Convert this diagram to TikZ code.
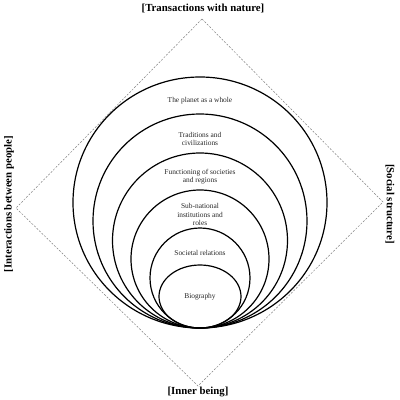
\documentclass[tikz,border=0pt]{standalone}
\usepackage{fontspec}
\setmainfont{Liberation Serif}
\tikzset{
	frame/.style={gray, line width=0.5pt, dash pattern=on 2pt off 1.5pt},
	ring/.style={black, line width=1.2pt},
	level/.style={font=\fontsize{7.4}{8.3}\selectfont, align=center, text=black!85, inner sep=0pt},
	pole/.style={font=\fontsize{10.8}{13}\selectfont\bfseries, inner sep=0pt}
}
\begin{document}
\begin{tikzpicture}[x=1pt, y=-1pt]
	\useasboundingbox (0,0) rectangle (400,400);
	\coordinate (T) at (202,19);
	\coordinate (R) at (383,202);
	\coordinate (B) at (198,386);
	\coordinate (L) at (16,208);
	\draw[frame] (T) -- (R) -- (B) -- (L) -- cycle;
	\node[pole] (nature) at (203,8) {[Transactions with nature]};
	\node[pole, rotate=90] (people) at (9,204) {[Interactions between people]};
	\node[pole, rotate=-90] (social) at (390,204) {[Social structure]};
	\node[pole] (inner) at (198,392) {[Inner being]};
	\draw[ring] (200,202.5) ellipse [x radius=127, y radius=125.5];
	\draw[ring] (200,221) ellipse [x radius=107, y radius=107];
	\draw[ring] (200,240.5) ellipse [x radius=87.5, y radius=87.5];
	\draw[ring] (200,259) ellipse [x radius=69, y radius=69];
	\draw[ring] (200,278) ellipse [x radius=50, y radius=50];
	\draw[ring] (200,296.5) ellipse [x radius=41, y radius=31.5];
	\node[level] (planet) at (200,101) {The planet as a whole};
	\node[level] (traditions) at (200,139) {Traditions and\\civilizations};
	\node[level] (societies) at (200,177) {Functioning of societies\\and regions};
	\node[level] (institutions) at (200,214.5) {Sub-national\\institutions and\\roles};
	\node[level] (relations) at (200,253) {Societal relations};
	\node[level] (biography) at (200,297) {Biography};
\end{tikzpicture}
\end{document}
